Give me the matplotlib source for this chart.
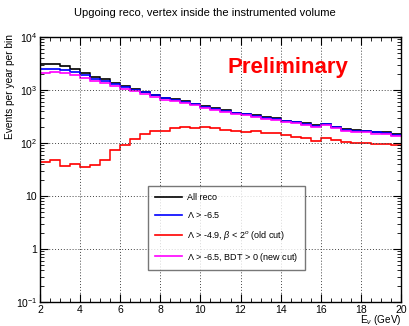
import numpy as np
import matplotlib
matplotlib.use("Agg")
import matplotlib.pyplot as plt
from matplotlib.ticker import FixedLocator, NullFormatter, MultipleLocator

plt.rcParams['font.family'] = ['Liberation Sans', 'DejaVu Sans']
plt.rcParams['mathtext.fontset'] = 'custom'
plt.rcParams['mathtext.rm'] = 'Liberation Sans'
plt.rcParams['mathtext.it'] = 'Liberation Sans:italic'

edges = np.arange(2.0, 20.01, 0.5)

all_reco = [3140, 3100, 2800, 2460, 2120, 1790, 1590, 1375, 1190, 1060, 930, 817,
            717, 676, 611, 552, 499, 457, 420, 374, 358, 337, 309, 292,
            264, 253, 238, 219, 232, 203, 181, 176, 171, 164, 159, 148]
lam65 = [2470, 2500, 2380, 2150, 1900, 1640, 1480, 1300, 1140, 1020, 900, 790,
         695, 655, 592, 535, 485, 445, 408, 364, 348, 328, 300, 284,
         256, 246, 230, 212, 226, 197, 176, 171, 166, 159, 154, 142]
old_cut = [44, 47, 37, 40, 35, 38.5, 47, 74, 93, 120, 148, 166,
           171, 195, 200, 189, 198, 189, 178, 171, 159, 166, 155, 155,
           140, 132, 124, 111, 124, 114, 106, 100, 100, 94, 96, 90]
new_cut = [2070, 2150, 2080, 1900, 1700, 1490, 1360, 1210, 1060, 960, 850, 750,
           660, 625, 566, 512, 464, 426, 390, 348, 333, 314, 287, 272,
           245, 235, 220, 203, 216, 188, 168, 163, 158, 151, 147, 135]

series = [
    ("All reco", all_reco, "#000000"),
    (r"$\Lambda$ > -6.5", lam65, "#0000ff"),
    (r"$\Lambda$ > -4.9, $\beta$ < 2$^{o}$ (old cut)", old_cut, "#ff0000"),
    (r"$\Lambda$ > -6.5, BDT > 0 (new cut)", new_cut, "#ff00ff"),
]

fig = plt.figure(figsize=(4.09, 3.26), dpi=100)
ax = fig.add_axes([40/409, 24/326, 361/409, 265/326])

for label, vals, col in series:
    v = np.array(vals, dtype=float)
    ax.fill_between(edges, np.append(v, v[-1]) * 0.96, np.append(v, v[-1]) * 1.04,
                    step='post', color=col, alpha=0.35, lw=0)
    ax.stairs(v, edges, color=col, lw=1.1, label=label, baseline=None)

ax.set_yscale('log')
ax.set_xlim(2, 20)
ax.set_ylim(0.1, 1e4)

ax.xaxis.set_major_locator(MultipleLocator(2))
ax.xaxis.set_minor_locator(MultipleLocator(0.5))
ax.set_yticks([0.1, 1, 10, 100, 1000, 10000])
ax.set_yticklabels(['10$^{-1}$', '1', '10', '10$^{2}$', '10$^{3}$', '10$^{4}$'])
minor = []
for d in range(-1, 4):
    for k in range(2, 10):
        minor.append(k * 10.0**d)
ax.yaxis.set_minor_locator(FixedLocator(minor))
ax.yaxis.set_minor_formatter(NullFormatter())

ax.tick_params(which='both', direction='in', top=True, right=True, labelsize=7.5, pad=2)
ax.tick_params(which='major', length=6, width=0.8)
ax.tick_params(which='minor', length=3, width=0.6)

ax.grid(True, which='major', linestyle=(0, (1, 2)), color='#444444', lw=0.7)
for s in ax.spines.values():
    s.set_linewidth(1.0)

ax.set_ylabel('Events per year per bin', fontsize=7.3, labelpad=2)
ax.yaxis.set_label_coords(-0.068, 1.0 + 3/265)
ax.yaxis.label.set_horizontalalignment('right')
ax.set_xlabel(r'E$_{\nu}$ (GeV)', fontsize=7.2, labelpad=0)
ax.xaxis.set_label_coords(1.0, -0.043)
ax.xaxis.label.set_horizontalalignment('right')
ax.xaxis.label.set_verticalalignment('top')

fig.text(0.5, 1 - 13/326, 'Upgoing reco, vertex inside the instrumented volume',
         ha='center', va='center', fontsize=8)
fig.text(288/409, 1 - 67/326, 'Preliminary', color='#ff0000', fontsize=16,
         fontweight='bold', ha='center', va='center')

leg = ax.legend(loc='upper left', bbox_to_anchor=((148-40)/361, (302-186)/265),
                borderaxespad=0.0,
                fontsize=6.5, frameon=True, fancybox=False, edgecolor='#555555',
                borderpad=0.75, labelspacing=0.95, handlelength=3.0, handletextpad=0.6)
leg.get_frame().set_linewidth(1.0)
for h in leg.get_lines():
    h.set_linewidth(1.2)

fig.savefig('out.png', dpi=100)
